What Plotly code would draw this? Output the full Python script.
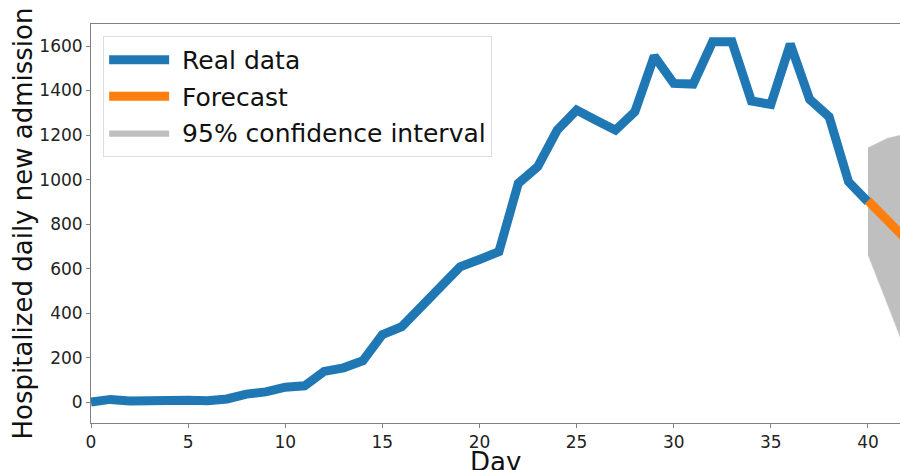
import plotly.graph_objects as go

days = list(range(0, 41))
real = [0, 12, 5, 8, 12, 8, 6, 14, 36, 46, 67, 73, 138, 154, 186, 303, 339, 431, 515, 608,
        641, 676, 983, 1058, 1222, 1312, 1267, 1222, 1305, 1555, 1432, 1429, 1619, 1619, 1353,
        1338, 1609, 1360, 1282, 990, 900]

fc_days = [40, 41, 42, 43]
forecast = [905, 815, 725, 640]

ci_days = [40, 41, 42, 43]
ci_upper = [1143, 1186, 1206, 1220]
ci_lower = [661, 440, 215, 0]

x_ticks = [0, 5, 10, 15, 20, 25, 30, 35, 40]
y_ticks = [0, 200, 400, 600, 800, 1000, 1200, 1400, 1600]

fig = go.Figure()
fig.add_trace(go.Scatter(
    x=ci_days + ci_days[::-1], y=ci_upper + ci_lower[::-1],
    fill="toself", fillcolor="#bfbfbf", line=dict(width=0.5, color="#cfcfcf"),
    mode="lines", name=" 95% confidence interval", legendrank=3, legendgroup="c",
    hoverinfo="skip"))
fig.add_trace(go.Scatter(x=days, y=real, mode="lines", name=" Real data", legendgroup="a",
                         line=dict(color="#1f77b4", width=9), legendrank=1))
fig.add_trace(go.Scatter(x=fc_days, y=forecast, mode="lines", name=" Forecast", legendgroup="b",
                         line=dict(color="#ff7f0e", width=9), legendrank=2))

axis_common = dict(showgrid=False, zeroline=False, showline=True, linecolor="#808080",
                   linewidth=1, ticks="outside", ticklen=4, tickcolor="#808080",
                   automargin=False,
                   tickfont=dict(family="DejaVu Sans", size=17, color="#222"))

fig.update_layout(
    width=900, height=470,
    margin=dict(l=91, r=0, t=24, b=47, autoexpand=False),
    plot_bgcolor="white", paper_bgcolor="white",
    font=dict(family="DejaVu Sans", color="#111"),
    xaxis=dict(range=[0, 41.65], tickvals=x_ticks, mirror=True, **axis_common),
    yaxis=dict(range=[-94, 1699], tickvals=y_ticks, **axis_common),
    legend=dict(x=0.015, y=0.97, xanchor="left", yanchor="top",
                font=dict(size=25, family="DejaVu Sans", color="#111"),
                bgcolor="white", bordercolor="#dddddd", borderwidth=1,
                traceorder="grouped", tracegroupgap=1, itemwidth=60),
    showlegend=True,
    annotations=[
        dict(text="Day", xref="paper", yref="paper", x=0.5, y=0, xanchor="center",
             yanchor="top", yshift=-22, showarrow=False,
             font=dict(size=26, family="DejaVu Sans", color="#111")),
        dict(text="Hospitalized daily new admission", xref="paper", yref="paper",
             x=0, y=0.5, xanchor="center", yanchor="middle", xshift=-69, textangle=-90,
             showarrow=False, font=dict(size=26, family="DejaVu Sans", color="#111")),
    ],
)

fig.write_html("out.html", config={"displayModeBar": False},
               post_script="document.body.style.margin='0';document.body.style.overflow='hidden';")
